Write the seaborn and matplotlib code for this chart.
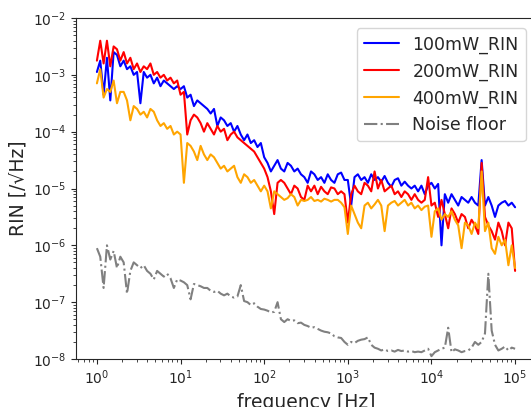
import numpy as np
import pandas as pd
import matplotlib
matplotlib.use("Agg")
import matplotlib.pyplot as plt
import seaborn as sns

sns.set_style("ticks")
plt.rcParams['font.family'] = ['DejaVu Sans']

# frequency grid: 25 log-spaced points per decade, 1 Hz .. 100 kHz
freq = np.logspace(0, 5, 126)

# values, stored as log10(RIN)
rin_100_log = [
    -2.95, -2.75, -3.35, -2.7, -3.45, -2.6, -2.65, -2.85, -2.75, -2.9,
    -2.85, -3.0, -2.95, -3.5, -2.95, -3.05, -3.0, -3.15, -3.05, -3.2,
    -3.1, -3.15, -3.2, -3.25, -3.2,
    -3.25, -3.2, -3.4, -3.35, -3.55, -3.45, -3.5, -3.55, -3.6, -3.68,
    -3.6, -3.9, -3.75, -3.8, -3.9, -3.85, -4.0, -3.9, -4.05, -4.15,
    -4.05, -4.2, -4.15, -4.27, -4.2,
    -4.45, -4.55, -4.7, -4.6, -4.5, -4.65, -4.7, -4.55, -4.6, -4.7,
    -4.65, -4.75, -4.8, -4.9, -4.7, -4.75, -4.85, -4.8, -4.9, -4.75,
    -4.85, -4.9, -4.75, -4.72, -4.85,
    -4.85, -5.3, -4.8, -4.75, -4.85, -4.8, -4.9, -4.75, -4.85, -4.8,
    -4.88, -4.78, -4.9, -4.97, -4.85, -4.82, -4.95, -4.88, -4.95, -5.0,
    -4.95, -5.05, -4.95, -5.1, -4.95,
    -4.9, -5.0, -4.92, -6.0, -5.1, -5.25, -5.1, -5.2, -5.3, -5.15,
    -5.2, -5.25, -5.15, -5.25, -5.3, -4.5, -5.3, -5.15, -5.3, -5.5,
    -5.3, -5.25, -5.22, -5.3, -5.25, -5.33,
]
rin_200_log = [
    -2.75, -2.4, -2.8, -2.4, -2.85, -2.5, -2.55, -2.75, -2.6, -2.8,
    -2.7, -2.9, -2.8, -2.95, -2.85, -2.9, -2.8, -3.0, -2.95, -3.05,
    -3.0, -3.1, -3.05, -3.15, -3.1,
    -3.35, -3.3, -4.05, -3.8, -3.7, -3.75, -3.85, -4.0, -3.85, -3.95,
    -4.05, -3.9, -4.0, -3.95, -4.15, -4.05, -4.0, -4.1, -4.15, -4.2,
    -4.25, -4.3, -4.35, -4.45, -4.55,
    -4.65, -4.8, -5.05, -5.45, -4.9, -4.85, -4.9, -5.0, -5.1, -4.95,
    -5.0, -5.15, -5.2, -4.95, -5.05, -4.95, -5.1, -4.97, -5.05, -5.1,
    -4.98, -5.0, -5.1, -5.05, -5.1,
    -5.6, -5.1, -4.95, -5.05, -5.1, -4.9, -4.95, -5.05, -4.7, -5.0,
    -4.85, -5.05, -5.0, -4.95, -5.1, -5.05, -5.15, -5.05, -5.1, -5.2,
    -5.1, -5.2, -5.25, -5.2, -4.8,
    -5.3, -5.25, -5.5, -5.2, -5.45, -5.7, -5.35, -5.45, -5.6, -5.45,
    -5.5, -5.7, -5.55, -5.65, -5.8, -4.55, -5.5, -5.65, -5.75, -5.9,
    -5.6, -5.75, -6.0, -5.6, -5.7, -6.45,
]
rin_400_log = [
    -3.15, -2.9, -3.4, -3.25, -3.3, -3.1, -3.5, -3.3, -3.3, -3.45,
    -3.8, -3.55, -3.6, -3.7, -3.65, -3.75, -3.6, -3.65, -3.8, -3.9,
    -3.85, -3.95, -3.9, -4.05, -4.0,
    -4.05, -4.9, -4.2, -4.25, -4.35, -4.5, -4.25, -4.4, -4.5, -4.4,
    -4.45, -4.55, -4.65, -4.6, -4.7, -4.65, -4.6, -4.8, -4.9, -4.75,
    -4.8, -4.9, -4.85, -4.95, -5.05,
    -4.95, -5.05, -5.35, -5.05, -5.1, -5.15, -5.2, -5.17, -5.1, -5.15,
    -5.3, -5.2, -5.22, -5.2, -5.15, -5.22, -5.2, -5.23, -5.18, -5.2,
    -5.23, -5.2, -5.2, -5.25, -5.33,
    -5.8, -5.3, -5.45, -5.6, -5.7, -5.3, -5.25, -5.35, -5.28, -5.2,
    -5.3, -5.75, -5.3, -5.25, -5.22, -5.3, -5.25, -5.2, -5.3, -5.25,
    -5.35, -5.3, -5.38, -5.32, -5.3,
    -5.85, -5.4, -5.35, -5.55, -5.45, -5.5, -5.4, -5.55, -5.65, -6.05,
    -5.6, -5.65, -5.8, -5.6, -5.7, -4.7, -5.75, -5.6, -6.05, -6.15,
    -5.85, -6.0, -5.9, -6.35, -6.0, -6.4,
]
noise_log = [
    -6.05, -6.2, -6.75, -6.0, -6.25, -6.1, -6.4, -6.2, -6.3, -6.85,
    -6.45, -6.3, -6.35, -6.4, -6.35, -6.45, -6.5, -6.6, -6.45, -6.5,
    -6.55, -6.5, -6.58, -6.75, -6.6,
    -6.62, -6.65, -6.7, -6.95, -6.68, -6.7, -6.72, -6.75, -6.75, -6.8,
    -6.82, -6.8, -6.85, -6.88, -6.85, -6.9, -6.92, -6.9, -6.7, -6.98,
    -7.0, -7.05, -7.02, -7.08, -7.12,
    -7.13, -7.15, -7.18, -7.17, -7.0, -7.3, -7.35, -7.3, -7.33, -7.32,
    -7.37, -7.36, -7.4, -7.42, -7.45, -7.44, -7.47, -7.5, -7.52, -7.53,
    -7.55, -7.6, -7.62, -7.63, -7.7,
    -7.75, -7.7, -7.72, -7.68, -7.66, -7.65, -7.62, -7.75, -7.8, -7.82,
    -7.85, -7.83, -7.86, -7.85, -7.87, -7.84, -7.86, -7.85, -7.87, -7.86,
    -7.88, -7.87, -7.88, -7.85, -7.82,
    -7.95, -7.88, -7.85, -7.82, -7.8, -7.45, -7.88, -7.83, -7.85, -7.88,
    -7.86, -7.85, -7.8, -7.7, -7.75, -7.7, -7.55, -6.5, -7.5, -7.75,
    -7.85, -7.82, -7.78, -7.85, -7.8, -7.82,
]

labels = ["100mW_RIN", "200mW_RIN", "400mW_RIN", "Noise floor"]
colors = ["blue", "red", "orange", "grey"]

df = pd.DataFrame({"freq": freq,
                   labels[0]: 10.0 ** np.array(rin_100_log),
                   labels[1]: 10.0 ** np.array(rin_200_log),
                   labels[2]: 10.0 ** np.array(rin_400_log),
                   labels[3]: 10.0 ** np.array(noise_log)})

fig = plt.figure(figsize=(5.31, 4.07), dpi=100)
ax = fig.add_axes([76 / 531, 48 / 407, 460 / 531, 341 / 407])

for lab, col in zip(labels, colors):
    ls = "-." if lab == "Noise floor" else "-"
    sns.lineplot(data=df, x="freq", y=lab, ax=ax, color=col, linestyle=ls,
                 linewidth=1.5, label=lab, estimator=None, sort=False)

ax.set_xscale("log")
ax.set_yscale("log")
ax.set_xlim(10 ** -0.25, 10 ** 5.25)
ax.set_ylim(1e-8, 1e-2)
ax.set_xlabel("frequency [Hz]", fontsize=13.5)
ax.set_ylabel("RIN [/\u221aHz]", fontsize=13.5)
ax.tick_params(labelsize=10)
ax.legend(loc="upper right", fontsize=12.5, borderaxespad=0.6)

fig.savefig("out.png", dpi=100)
